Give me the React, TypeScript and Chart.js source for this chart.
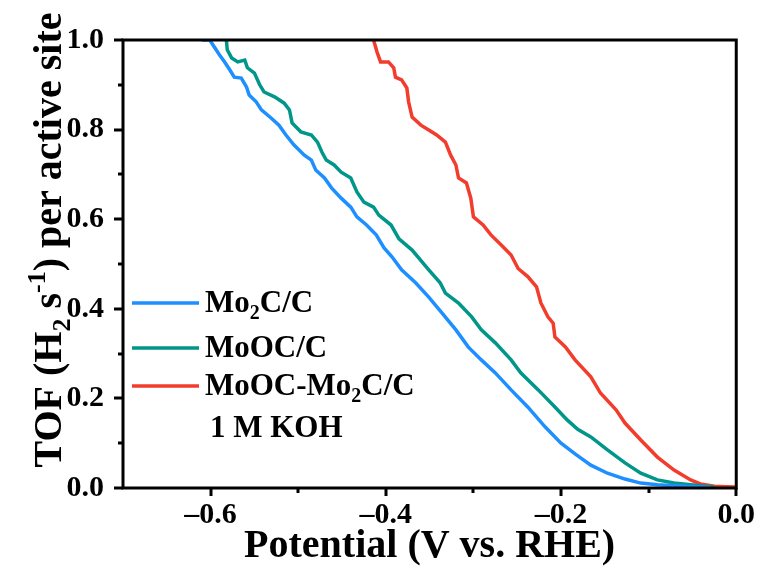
import React, { useEffect, useRef } from "react";
import { Chart, registerables } from "chart.js";

Chart.register(...registerables);

// ---- data ----
const seriesNames = ["Mo2C/C", "MoOC/C", "MoOC-Mo2C/C"];
const electrolyteLabel = "1 M KOH";
const xTitle = "Potential (V vs. RHE)";

const mo2cX = [-0.61, -0.601, -0.595, -0.59, -0.584, -0.578, -0.573, -0.565, -0.559, -0.556, -0.548, -0.542, -0.531, -0.522, -0.514, -0.505, -0.493, -0.485, -0.48, -0.47, -0.462, -0.451, -0.44, -0.433, -0.422, -0.411, -0.402, -0.393, -0.382, -0.366, -0.351, -0.336, -0.32, -0.306, -0.291, -0.275, -0.257, -0.238, -0.218, -0.2, -0.184, -0.166, -0.147, -0.127, -0.109, -0.09, -0.059, -0.04, -0.03];
const mo2cY = [1.0, 1.0, 0.982, 0.967, 0.951, 0.933, 0.917, 0.915, 0.895, 0.877, 0.862, 0.844, 0.826, 0.81, 0.788, 0.766, 0.743, 0.732, 0.71, 0.692, 0.67, 0.647, 0.627, 0.605, 0.587, 0.565, 0.536, 0.516, 0.487, 0.458, 0.426, 0.391, 0.353, 0.315, 0.286, 0.257, 0.219, 0.181, 0.136, 0.1, 0.076, 0.051, 0.033, 0.02, 0.011, 0.007, 0.004, 0.002, 0.001];

const moocX = [-0.582, -0.581, -0.576, -0.569, -0.561, -0.558, -0.55, -0.544, -0.539, -0.527, -0.516, -0.51, -0.507, -0.497, -0.485, -0.478, -0.473, -0.468, -0.459, -0.451, -0.44, -0.433, -0.425, -0.414, -0.408, -0.394, -0.385, -0.37, -0.351, -0.338, -0.332, -0.317, -0.302, -0.291, -0.275, -0.257, -0.246, -0.226, -0.207, -0.193, -0.181, -0.166, -0.147, -0.127, -0.109, -0.09, -0.071, -0.052, -0.037, -0.025];
const moocY = [1.0, 0.978, 0.96, 0.951, 0.955, 0.938, 0.926, 0.9, 0.884, 0.873, 0.859, 0.844, 0.815, 0.795, 0.788, 0.772, 0.75, 0.732, 0.721, 0.705, 0.692, 0.661, 0.638, 0.627, 0.609, 0.587, 0.556, 0.531, 0.487, 0.458, 0.435, 0.413, 0.382, 0.353, 0.324, 0.286, 0.257, 0.219, 0.181, 0.152, 0.131, 0.114, 0.085, 0.056, 0.033, 0.018, 0.011, 0.007, 0.004, 0.002];

const hetX = [-0.414, -0.41, -0.406, -0.397, -0.391, -0.389, -0.382, -0.376, -0.374, -0.37, -0.36, -0.351, -0.342, -0.332, -0.326, -0.32, -0.317, -0.308, -0.303, -0.3, -0.289, -0.28, -0.268, -0.257, -0.249, -0.238, -0.228, -0.223, -0.215, -0.209, -0.207, -0.195, -0.184, -0.166, -0.155, -0.137, -0.127, -0.109, -0.09, -0.071, -0.052, -0.041, -0.025, -0.012, 0.0];
const hetY = [1.0, 0.973, 0.951, 0.951, 0.938, 0.917, 0.911, 0.893, 0.862, 0.828, 0.81, 0.799, 0.788, 0.772, 0.743, 0.721, 0.692, 0.681, 0.647, 0.605, 0.587, 0.565, 0.542, 0.52, 0.49, 0.472, 0.449, 0.413, 0.382, 0.368, 0.337, 0.315, 0.286, 0.248, 0.212, 0.174, 0.145, 0.107, 0.069, 0.04, 0.018, 0.009, 0.004, 0.003, 0.002];

const xMajorTicks = [-0.6, -0.4, -0.2, 0.0];
const xMinorTicks = [-0.5, -0.3, -0.1];
const yMajorTicks = [0.0, 0.2, 0.4, 0.6, 0.8, 1.0];
const yMinorTicks = [0.1, 0.3, 0.5, 0.7, 0.9];

const colors = ["#1E8FFF", "#00968A", "#F23D2C"];

const FONT = "'Liberation Serif', 'Times New Roman', serif";

type Seg = { t: string; sub?: boolean; sup?: boolean };

function drawRich(ctx: CanvasRenderingContext2D, segs: Seg[], x: number, y: number, size: number, center = false) {
  const small = Math.round(size * 0.65);
  const fontFor = (s: Seg) => `bold ${s.sub || s.sup ? small : size}px ${FONT}`;
  let total = 0;
  for (const s of segs) {
    ctx.font = fontFor(s);
    total += ctx.measureText(s.t).width;
  }
  let cx = center ? x - total / 2 : x;
  ctx.textAlign = "left";
  ctx.textBaseline = "alphabetic";
  for (const s of segs) {
    ctx.font = fontFor(s);
    const dy = s.sub ? size * 0.22 : s.sup ? -size * 0.4 : 0;
    ctx.fillText(s.t, cx, y + dy);
    cx += ctx.measureText(s.t).width;
  }
  return total;
}

const legendSegs: Seg[][] = [
  [{ t: "Mo" }, { t: "2", sub: true }, { t: "C/C" }],
  [{ t: "MoOC/C" }],
  [{ t: "MoOC-Mo" }, { t: "2", sub: true }, { t: "C/C" }],
];

const decorPlugin = {
  id: "decor",
  afterDatasetsDraw(chart: any) {
    const { ctx, chartArea } = chart;
    const xs = chart.scales.x;
    const ys = chart.scales.y;
    const { left, right, top, bottom } = chartArea;
    ctx.save();
    ctx.strokeStyle = "#000";
    ctx.fillStyle = "#000";
    ctx.lineWidth = 3;
    ctx.lineCap = "butt";
    ctx.strokeRect(left, top, right - left, bottom - top);
    // ticks
    ctx.beginPath();
    for (const v of xMajorTicks) {
      const px = Math.round(xs.getPixelForValue(v));
      ctx.moveTo(px, bottom); ctx.lineTo(px, bottom + 8);
    }
    for (const v of xMinorTicks) {
      const px = Math.round(xs.getPixelForValue(v));
      ctx.moveTo(px, bottom); ctx.lineTo(px, bottom + 5);
    }
    for (const v of yMajorTicks) {
      const py = Math.round(ys.getPixelForValue(v));
      ctx.moveTo(left, py); ctx.lineTo(left - 9, py);
    }
    for (const v of yMinorTicks) {
      const py = Math.round(ys.getPixelForValue(v));
      ctx.moveTo(left, py); ctx.lineTo(left - 5, py);
    }
    ctx.stroke();

    // legend
    const legendLineY = [303, 348, 386];
    const legendTextY = [312, 357, 395];
    for (let i = 0; i < 3; i++) {
      ctx.strokeStyle = colors[i];
      ctx.lineWidth = 3.5;
      ctx.beginPath();
      ctx.moveTo(132, legendLineY[i]);
      ctx.lineTo(199, legendLineY[i]);
      ctx.stroke();
      ctx.fillStyle = "#000";
      drawRich(ctx, legendSegs[i], 205, legendTextY[i], 31);
    }
    drawRich(ctx, [{ t: electrolyteLabel }], 210, 437, 31);

    // x title
    drawRich(ctx, [{ t: xTitle }], (left + right) / 2, 557, 40, true);

    // y title
    ctx.save();
    ctx.translate(61, 240);
    ctx.rotate(-Math.PI / 2);
    drawRich(
      ctx,
      [{ t: "TOF (H" }, { t: "2", sub: true }, { t: " s" }, { t: "-1", sup: true }, { t: ") per active site" }],
      0,
      0,
      40,
      true
    );
    ctx.restore();
    ctx.restore();
  },
};

export default function App() {
  const ref = useRef<HTMLCanvasElement | null>(null);
  useEffect(() => {
    if (!ref.current) return;
    const toPts = (xs: number[], ys: number[]) => xs.map((x, i) => ({ x, y: ys[i] }));
    const allX = [mo2cX, moocX, hetX];
    const allY = [mo2cY, moocY, hetY];
    const tickFont = { family: FONT, size: 30, weight: "bold" as const };
    const chart = new Chart(ref.current, {
      type: "line",
      data: {
        datasets: seriesNames.map((name, i) => ({
          label: name,
          data: toPts(allX[i], allY[i]),
          borderColor: colors[i],
          backgroundColor: colors[i],
          borderWidth: 3.5,
          pointRadius: 0,
          tension: 0,
          fill: false,
        })),
      },
      options: {
        animation: false,
        responsive: false,
        devicePixelRatio: 1,
        layout: { padding: { top: 40, right: 25, left: 0, bottom: 0 } },
        plugins: { legend: { display: false }, tooltip: { enabled: false } },
        scales: {
          x: {
            type: "linear",
            min: -0.7,
            max: 0,
            grid: { display: false, drawTicks: false },
            border: { display: false },
            afterBuildTicks: (s: any) => { s.ticks = xMajorTicks.map((v) => ({ value: v })); },
            afterFit: (s: any) => { s.height = 80; },
            ticks: {
              color: "#000",
              font: tickFont,
              padding: 9,
              maxRotation: 0,
              autoSkip: false,
              callback: (v: any) => (Math.abs(v) < 1e-9 ? "0.0" : "\u2013" + Math.abs(v).toFixed(1)),
            },
          },
          y: {
            type: "linear",
            min: 0,
            max: 1,
            grid: { display: false, drawTicks: false },
            border: { display: false },
            afterBuildTicks: (s: any) => { s.ticks = yMajorTicks.map((v) => ({ value: v })); },
            afterFit: (s: any) => { s.width = 123; },
            ticks: {
              color: "#000",
              font: tickFont,
              padding: 19,
              autoSkip: false,
              callback: (v: any) => Number(v).toFixed(1),
            },
          },
        },
      },
      plugins: [decorPlugin],
    });
    return () => chart.destroy();
  }, []);
  return (
    <canvas
      ref={ref}
      width={764}
      height={568}
      style={{ position: "absolute", left: 0, top: 0, width: 764, height: 568, display: "block", background: "#fff" }}
    />
  );
}
